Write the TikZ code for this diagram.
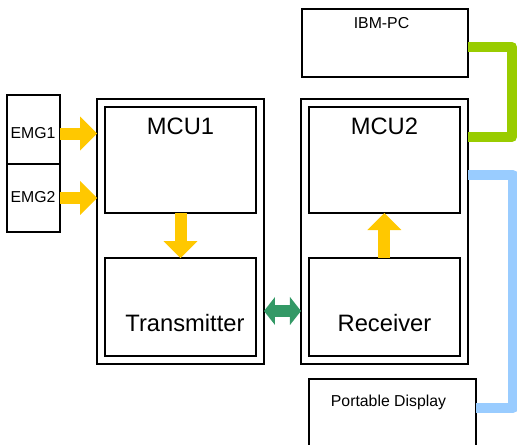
\documentclass[tikz,border=0pt]{standalone}
\usepackage{fontspec}
\setmainfont{Liberation Sans}
\usetikzlibrary{arrows.meta, positioning}

\definecolor{sigyellow}{RGB}{255,200,0}
\definecolor{pcgreen}{RGB}{153,204,0}
\definecolor{dispblue}{RGB}{153,204,255}
\definecolor{radiogreen}{RGB}{51,153,102}

\begin{document}
\begin{tikzpicture}[x=0.02cm, y=-0.02cm,
    box/.style={draw, line width=1pt, inner sep=0pt, outer sep=0pt},
    outerbox/.style={box, minimum width=3.34cm, minimum height=5.3cm},
    smalltxt/.style={font=\fontsize{9}{10}\selectfont, inner sep=0pt, anchor=base},
    bigtxt/.style={font=\fontsize{13.5}{15}\selectfont, inner sep=0pt, anchor=base},
    flow/.style={sigyellow, line width=0.24cm, -{Triangle[length=0.34cm, width=0.68cm, line width=0pt]}},
    radio/.style={radiogreen, line width=0.24cm, {Triangle[length=0.22cm, width=0.56cm, line width=0pt]}-{Triangle[length=0.22cm, width=0.56cm, line width=0pt]}},
    link/.style={line width=0.2cm, line join=round}]

    \useasboundingbox (0,0) rectangle (517,444);

    % Nodes
    \node[box, minimum width=1.06cm, minimum height=1.38cm] (emg1) at (33.5,129.5) {};
    \node[box, minimum width=1.06cm, minimum height=1.36cm] (emg2) [below=0pt of emg1] {};
    \node[smalltxt] (emg1lbl) at (33,138) {EMG1};
    \node[smalltxt] (emg2lbl) at (33,202) {EMG2};

    \node[outerbox] (mcu1) at (180.5,231.5) {};
    \node[outerbox] (mcu2) [right=0.74cm of mcu1] {};

    \node[box, minimum width=3.02cm, minimum height=2.12cm] (mcu1in) [below=0.16cm of mcu1.north] {};
    \node[box, minimum width=3.02cm, minimum height=1.96cm] (tx) [above=0.16cm of mcu1.south] {};
    \node[box, minimum width=3.02cm, minimum height=2.12cm] (mcu2in) [below=0.16cm of mcu2.north] {};
    \node[box, minimum width=3.02cm, minimum height=1.96cm] (rx) [above=0.16cm of mcu2.south] {};

    \node[bigtxt] (mcu1lbl) at ([yshift=-0.54cm]mcu1in.north) {MCU1};
    \node[bigtxt] (mcu2lbl) at ([yshift=-0.54cm]mcu2in.north) {MCU2};
    \node[bigtxt] (txlbl) at ([xshift=0.09cm, yshift=-1.48cm]tx.north) {Transmitter};
    \node[bigtxt] (rxlbl) at ([yshift=-1.48cm]rx.north) {Receiver};

    \node[box, minimum width=3.32cm, minimum height=1.36cm] (pc) at (385,43) {};
    \node[smalltxt] (pclbl) at ([xshift=-0.07cm, yshift=-0.38cm]pc.north) {IBM-PC};
    \node[box, minimum width=3.34cm, minimum height=1.42cm] (disp) at (392.5,414.5) {};
    \node[smalltxt] (displbl) at ([xshift=-0.08cm, yshift=-0.54cm]disp.north) {Portable Display};

    % Arrows
    \draw[flow, transform canvas={yshift=-0.08cm}] (emg1.east) -- (emg1.east -| mcu1.west);
    \draw[flow] (emg2.east) -- (emg2.east -| mcu1.west);
    \draw[flow] (mcu1in.south) -- (tx.north);
    \draw[flow] (rx.north) -- (mcu2in.south);
    \draw[radio, transform canvas={yshift=-0.08cm}] (tx.east -| mcu1.east) -- (rx.west -| mcu2.west);

    % Links
    \coordinate (pcout) at ([yshift=-0.08cm]pc.east);
    \coordinate (pcbend) at (512,137);
    \draw[link, pcgreen] (pcout) -| (pcbend) -- (pcbend -| mcu2.east);

    \coordinate (dispin) at ([yshift=0.13cm]disp.east);
    \coordinate (dispbend) at (513,175);
    \draw[link, dispblue] (dispbend -| mcu2.east) -- (dispbend) |- (dispin);

\end{tikzpicture}
\end{document}
